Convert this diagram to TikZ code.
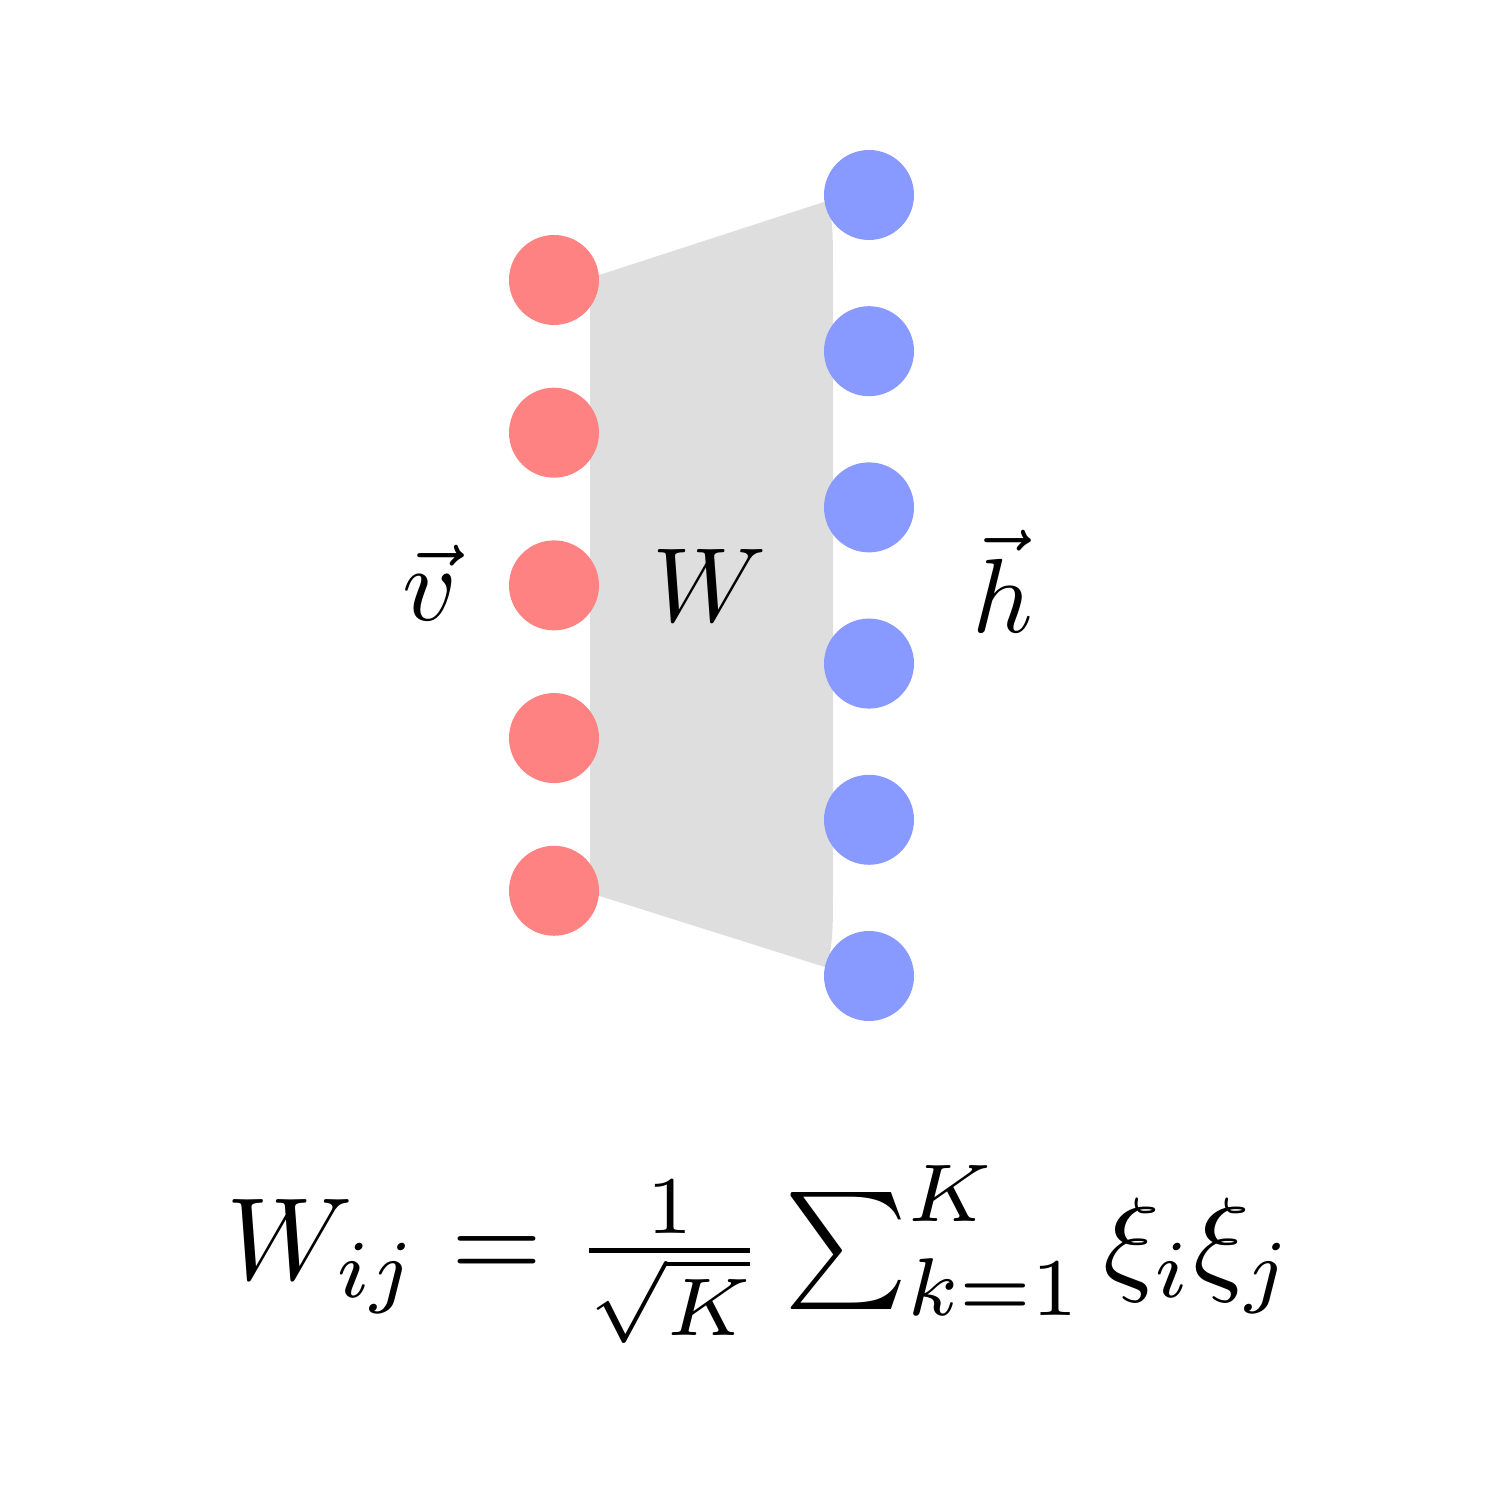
\documentclass[tikz,border=0pt]{standalone}
\usepackage{amsmath}
\usepackage{tikz}
\usetikzlibrary{positioning, calc}
\definecolor{visible}{RGB}{255, 130, 130}
\definecolor{hidden}{RGB}{136, 153, 255}
\definecolor{weights}{RGB}{222, 222, 222}

\begin{document}
\begin{tikzpicture}[
    vunit/.style={circle, fill=visible, minimum size=0.9cm, inner sep=0pt},
    hunit/.style={circle, fill=hidden, minimum size=0.9cm, inner sep=0pt},
    lbl/.style={scale=3, anchor=base}
]
    \useasboundingbox (0,0) rectangle (14.93,14.93);

    % Weight band
    \fill[weights] (5.90,12.15) -- (8.27,12.92)
        .. controls (8.33,12.70) .. (8.33,12.03) -- (8.33,6.13)
        .. controls (8.33,5.60) .. (8.28,5.25) -- (5.90,6.00) -- cycle;

    % Visible units
    \foreach \i in {1,...,5}
        \node[vunit] (v\i) at (5.54,{12.13-1.527*(\i-1)}) {};

    % Hidden units
    \foreach \i in {1,...,6}
        \node[hunit] (h\i) at (8.69,{12.98-1.562*(\i-1)}) {};

    % Labels
    \node[lbl] (vlab) at (4.30,8.72) {$\vec{v}$};
    \node[lbl] (wlab) at (7.10,8.71) {$W$};
    \node[lbl] (hlab) at (10.03,8.60) {$\vec{h}$};

    % Hebb rule
    \node[scale=3.33, anchor=base] (rule) at (7.60,2.13)
        {$W_{ij} = \frac{1}{\sqrt{K}} \sum_{k=1}^{K} \xi_i \xi_j$};
\end{tikzpicture}
\end{document}
